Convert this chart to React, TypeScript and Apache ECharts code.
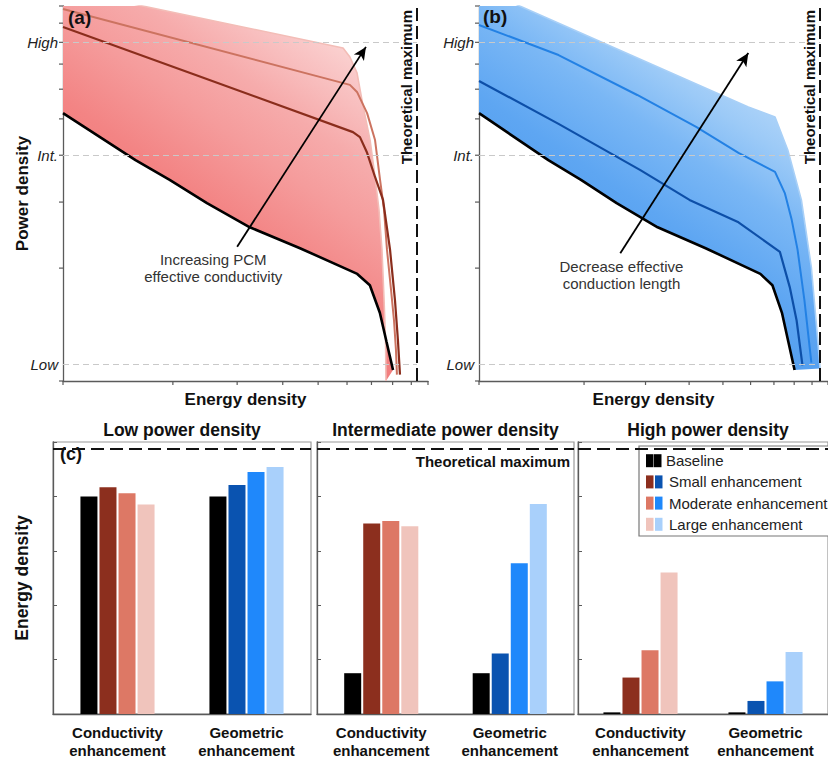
import { useEffect, useRef } from 'react';
import * as echarts from 'echarts';

const FONT = '"Liberation Sans", Arial, Helvetica, sans-serif';

// ---- (a) / (b): power density vs energy density, log-log, arbitrary units ----
const ENERGY_TICKS = [1, 2, 3, 4, 5, 6, 7, 8, 9, 10];
const POWER_TICKS = [1, 2, 3, 4, 5, 6, 7, 8, 9, 10];
const LEVEL_LABELS = ['High', 'Int.', 'Low'];
const LEVEL_VALUES = [8, 4, 1.11];
const THEORETICAL_MAX_A = 9.33;
const THEORETICAL_MAX_B = 9.5;

// baseline device (shared by both panels)
const BASE_E = [1.0, 1.58, 1.96, 2.48, 3.25, 4.46, 6.4, 6.93, 7.38, 7.7, 8.02];
const BASE_P = [5.18, 3.88, 3.44, 2.98, 2.57, 2.26, 1.93, 1.8, 1.52, 1.27, 1.07];

// conductivity enhancement
const COND_SMALL_E = [1, 2.27, 6.23, 6.51, 6.81, 7.16, 7.53, 7.87, 8.12, 8.27, 8.38];
const COND_SMALL_P = [8.79, 6.59, 4.61, 4.47, 4.06, 3.5, 3.04, 2.24, 1.64, 1.29, 1.04];
const COND_MOD_E = [1, 6.11, 6.39, 6.81, 7.16, 7.39, 7.58, 7.72, 7.92, 8.07, 8.17, 8.22];
const COND_MOD_P = [9.82, 6.16, 5.9, 5.18, 4.39, 3.44, 2.86, 2.24, 1.75, 1.45, 1.21, 1.04];
const COND_LARGE_E = [1, 5.85, 6.11, 6.39, 6.63, 6.94, 7.16, 7.34, 7.48, 7.58, 7.65, 7.67];
const COND_LARGE_P = [11.08, 7.73, 7.31, 6.63, 5.45, 4.39, 3.5, 2.86, 2.24, 1.64, 1.29, 1.0];

// geometric enhancement
const GEOM_SMALL_E = [1, 1.69, 2.9, 4.01, 5.54, 7.28, 7.77, 8.13, 8.45];
const GEOM_SMALL_P = [6.31, 4.85, 3.65, 3.04, 2.65, 2.21, 1.78, 1.45, 1.1];
const GEOM_MOD_E = [1, 1.69, 2.84, 4.19, 5.54, 7.05, 7.52, 7.87, 8.18, 8.56, 8.96];
const GEOM_MOD_P = [8.9, 7.4, 5.79, 4.76, 4.06, 3.61, 3.17, 2.69, 2.24, 1.64, 1.12];
const GEOM_LARGE_E = [1, 5.91, 7.05, 7.67, 8.39, 8.96, 9.31, 9.49];
const GEOM_LARGE_P = [11.17, 5.38, 5.06, 4.13, 3.04, 2.01, 1.34, 1.08];

// annotation arrows [energy, power]
const ARROW_A = [[3.0, 2.28], [6.76, 7.78]];
const ARROW_B = [[2.54, 2.19], [5.91, 7.49]];
const NOTE_A = { at: [2.58, 2.0], text: 'Increasing PCM\neffective conductivity' };
const NOTE_B = { at: [2.56, 1.92], text: 'Decrease effective\nconduction length' };

// ---- (c): energy density reached at each power level ----
const CATEGORIES = ['Conductivity\nenhancement', 'Geometric\nenhancement'];
const PANEL_TITLES = ['Low power density', 'Intermediate power density', 'High power density'];
const LEVEL_NAMES = ['Baseline', 'Small enhancement', 'Moderate enhancement', 'Large enhancement'];
const LOW_BASE = [4.0, 4.0];
const LOW_SMALL = [4.17, 4.21];
const LOW_MOD = [4.06, 4.45];
const LOW_LARGE = [3.85, 4.54];
const INT_BASE = [0.75, 0.75];
const INT_SMALL = [3.5, 1.11];
const INT_MOD = [3.55, 2.77];
const INT_LARGE = [3.45, 3.86];
const HIGH_BASE = [0.03, 0.03];
const HIGH_SMALL = [0.67, 0.24];
const HIGH_MOD = [1.17, 0.6];
const HIGH_LARGE = [2.6, 1.14];
const THEORETICAL_BAR = 4.87;

const RED = ['#000000', '#8c2f1e', '#dd7865', '#f0c4bc'];
const BLUE = ['#000000', '#0a53b0', '#1f88fb', '#a9d0fb'];

const TOP_GRIDS = [
  { left: 63, top: 6, width: 365, height: 375 },
  { left: 479, top: 6, width: 355, height: 375 },
];
const BOTTOM_GRIDS = [
  { left: 53, top: 442, width: 258, height: 272 },
  { left: 317, top: 442, width: 257, height: 272 },
  { left: 578, top: 442, width: 260, height: 272 },
];

const AXIS_COLOR = '#5a5a5a';

function pairs(e: number[], p: number[]) {
  return e.map((v, i) => [v, p[i]]);
}

function topPanel(
  idx: number,
  lines: { e: number[]; p: number[]; color: string; width: number }[],
  large: { e: number[]; p: number[]; edge: string },
  stops: [number, string][],
  theo: number,
  arrow: number[][],
  note: { at: number[]; text: string },
) {
  const ax = { xAxisIndex: idx, yAxisIndex: idx };
  const series: any[] = [];

  // shaded band between the baseline and the largest enhancement
  series.push({
    type: 'custom',
    ...ax,
    clip: true,
    silent: true,
    z: 1,
    encode: { x: 0, y: 1 },
    data: [[large.e[0], large.p[0]]],
    renderItem: (_params: any, api: any) => {
      const pts: number[][] = [];
      large.e.forEach((e, i) => pts.push(api.coord([e, large.p[i]])));
      for (let i = BASE_E.length - 1; i >= 0; i--) pts.push(api.coord([BASE_E[i], BASE_P[i]]));
      return {
        type: 'polygon',
        shape: { points: pts },
        style: {
          fill: new echarts.graphic.LinearGradient(
            0.2, 1, 0.8, 0,
            stops.map(([offset, color]) => ({ offset, color })),
          ),
        },
      };
    },
  });

  // outer edge + level guide lines
  series.push({
    type: 'line',
    ...ax,
    z: 2,
    silent: true,
    symbol: 'none',
    data: pairs(large.e, large.p),
    lineStyle: { color: large.edge, width: 1.6 },
    markLine: {
      silent: true,
      symbol: 'none',
      lineStyle: { color: '#c9c9c9', type: [6, 4], width: 1 },
      label: {
        show: true,
        position: 'start',
        formatter: '{b}',
        fontStyle: 'italic',
        fontSize: 15,
        color: '#222',
        fontFamily: FONT,
        distance: 5,
      },
      data: LEVEL_VALUES.map((v, i) => [
        { coord: [1, v], name: LEVEL_LABELS[i] },
        { coord: [theo, v] },
      ]),
    },
  });

  lines.forEach((l) =>
    series.push({
      type: 'line',
      ...ax,
      z: 3,
      silent: true,
      symbol: 'none',
      data: pairs(l.e, l.p),
      lineStyle: { color: l.color, width: l.width },
    }),
  );

  // baseline, theoretical limit and the trend arrow
  series.push({
    type: 'line',
    ...ax,
    z: 4,
    silent: true,
    symbol: 'none',
    data: pairs(BASE_E, BASE_P),
    lineStyle: { color: '#000', width: 2.6 },
    markLine: {
      silent: true,
      label: { show: false },
      data: [
        [
          { coord: [theo, 1], symbol: 'none', lineStyle: { color: '#111', width: 2, type: [13, 5] } },
          { coord: [theo, 10], symbol: 'none' },
        ],
        [
          { coord: arrow[0], symbol: 'none', lineStyle: { color: '#000', width: 1.8, type: 'solid' } },
          { coord: arrow[1], symbol: 'arrow', symbolSize: [9, 13] },
        ],
      ],
    },
  });

  // axis ticks at 1..10 on both log axes
  series.push({
    type: 'custom',
    ...ax,
    silent: true,
    z: 5,
    encode: { x: 0, y: 1 },
    data: [...ENERGY_TICKS.map((t) => [t, 1, 0]), ...POWER_TICKS.map((t) => [1, t, 1])],
    renderItem: (_params: any, api: any) => {
      const p = api.coord([api.value(0), api.value(1)]);
      const onX = api.value(2) === 0;
      return {
        type: 'line',
        shape: onX
          ? { x1: p[0], y1: p[1], x2: p[0], y2: p[1] + 4 }
          : { x1: p[0] - 4, y1: p[1], x2: p[0], y2: p[1] },
        style: { stroke: AXIS_COLOR, lineWidth: 1.2 },
      };
    },
  });

  // text annotations
  series.push({
    type: 'custom',
    ...ax,
    silent: true,
    z: 6,
    encode: { x: 0, y: 1 },
    data: [[note.at[0], note.at[1], 0], [theo, 10, 1]],
    renderItem: (_params: any, api: any) => {
      const p = api.coord([api.value(0), api.value(1)]);
      if (api.value(2) === 0) {
        return {
          type: 'text',
          x: p[0],
          y: p[1],
          style: {
            text: note.text,
            fill: '#333',
            fontSize: 15,
            fontFamily: FONT,
            align: 'center',
            verticalAlign: 'middle',
            lineHeight: 17,
          },
        };
      }
      return {
        type: 'text',
        x: p[0] - 3,
        y: p[1] + 4,
        rotation: Math.PI / 2,
        style: {
          text: 'Theoretical maximum',
          fill: '#111',
          fontSize: 15,
          fontWeight: 'bold',
          fontFamily: FONT,
          align: 'right',
          verticalAlign: 'bottom',
        },
      };
    },
  });

  return series;
}

function buildOption(): any {
  const logX = (i: number) => ({
    type: 'log',
    logBase: 10,
    gridIndex: i,
    min: 1,
    max: 10,
    axisLine: { lineStyle: { color: AXIS_COLOR, width: 1.3 } },
    axisTick: { show: false },
    axisLabel: { show: false },
    splitLine: { show: false },
    name: 'Energy density',
    nameLocation: 'middle',
    nameGap: 10,
    nameTextStyle: { fontSize: 17, fontWeight: 'bold', color: '#111', fontFamily: FONT },
  });
  const logY = (i: number) => ({
    type: 'log',
    logBase: 10,
    gridIndex: i,
    min: 1,
    max: 10,
    axisLine: { lineStyle: { color: AXIS_COLOR, width: 1.3 } },
    axisTick: { show: false },
    axisLabel: { show: false },
    splitLine: { show: false },
    name: i === 0 ? 'Power density' : '',
    nameLocation: 'middle',
    nameGap: 32,
    nameTextStyle: { fontSize: 17, fontWeight: 'bold', color: '#111', fontFamily: FONT },
  });

  const catX = (i: number) => ({
    type: 'category',
    gridIndex: i,
    data: CATEGORIES,
    axisLine: { lineStyle: { color: AXIS_COLOR, width: 1.3 } },
    axisTick: { alignWithLabel: true, length: 4, lineStyle: { color: AXIS_COLOR } },
    axisLabel: {
      interval: 0,
      fontSize: 15,
      fontWeight: 'bold',
      color: '#111',
      fontFamily: FONT,
      lineHeight: 18,
      margin: 9,
    },
  });
  const valY = (i: number) => ({
    type: 'value',
    gridIndex: i,
    min: 0,
    max: 5,
    interval: 1,
    axisLine: { show: true, lineStyle: { color: AXIS_COLOR, width: 1.3 } },
    axisTick: { show: true, inside: true, length: 4, lineStyle: { color: AXIS_COLOR } },
    axisLabel: { show: false },
    splitLine: { show: false },
    name: i === 2 ? 'Energy density' : '',
    nameLocation: 'middle',
    nameGap: 22,
    nameTextStyle: { fontSize: 17.5, fontWeight: 'bold', color: '#111', fontFamily: FONT },
  });

  const series: any[] = [
    ...topPanel(
      0,
      [
        { e: COND_MOD_E, p: COND_MOD_P, color: '#cc7360', width: 2 },
        { e: COND_SMALL_E, p: COND_SMALL_P, color: '#8a2d1c', width: 2.2 },
      ],
      { e: COND_LARGE_E, p: COND_LARGE_P, edge: '#f3bdb7' },
      [
        [0, '#ee6767'],
        [0.44, '#f38484'],
        [0.6, '#f59c9c'],
        [0.72, '#f6abab'],
        [0.86, '#f9c6c6'],
        [1, '#fde2e0'],
      ],
      THEORETICAL_MAX_A,
      ARROW_A,
      NOTE_A,
    ),
    ...topPanel(
      1,
      [
        { e: GEOM_MOD_E, p: GEOM_MOD_P, color: '#2381e4', width: 2 },
        { e: GEOM_SMALL_E, p: GEOM_SMALL_P, color: '#0d4fa8', width: 2.2 },
      ],
      { e: GEOM_LARGE_E, p: GEOM_LARGE_P, edge: '#a9d0f7' },
      [
        [0, '#3a8ce6'],
        [0.44, '#5ea6f2'],
        [0.6, '#7ab7f5'],
        [0.72, '#9ccaf7'],
        [0.86, '#bcdbfa'],
        [1, '#d8eafc'],
      ],
      THEORETICAL_MAX_B,
      ARROW_B,
      NOTE_B,
    ),
  ];

  const barSets = [
    [LOW_BASE, LOW_SMALL, LOW_MOD, LOW_LARGE],
    [INT_BASE, INT_SMALL, INT_MOD, INT_LARGE],
    [HIGH_BASE, HIGH_SMALL, HIGH_MOD, HIGH_LARGE],
  ];
  barSets.forEach((set, p) => {
    set.forEach((vals, l) => {
      series.push({
        type: 'bar',
        name: LEVEL_NAMES[l],
        xAxisIndex: 2 + p,
        yAxisIndex: 2 + p,
        barWidth: 17,
        barGap: '12%',
        silent: true,
        data: vals.map((v, c) => ({ value: v, itemStyle: { color: c === 0 ? RED[l] : BLUE[l] } })),
        markLine:
          l === 0
            ? {
                silent: true,
                symbol: 'none',
                lineStyle: { color: '#111', width: 2, type: [13, 6] },
                label:
                  p === 1
                    ? {
                        show: true,
                        position: 'insideEndBottom',
                        formatter: 'Theoretical maximum',
                        fontSize: 15,
                        fontWeight: 'bold',
                        color: '#111',
                        fontFamily: FONT,
                        distance: [4, 5],
                      }
                    : { show: false },
                data: [{ yAxis: THEORETICAL_BAR }],
              }
            : undefined,
      });
    });
  });

  // legend: two swatches per row (conductivity / geometric)
  const legendChildren: any[] = [
    {
      type: 'rect',
      shape: { x: 639, y: 446, width: 210, height: 90 },
      style: { fill: '#fff', stroke: '#777', lineWidth: 1.2 },
    },
  ];
  LEVEL_NAMES.forEach((name, l) => {
    const cy = 460.7 + l * 21.2;
    legendChildren.push(
      { type: 'rect', shape: { x: 646, y: cy - 6.5, width: 7.5, height: 13 }, style: { fill: RED[l] } },
      { type: 'rect', shape: { x: l === 0 ? 654 : 655, y: cy - 6.5, width: 7.5, height: 13 }, style: { fill: BLUE[l] } },
      {
        type: 'text',
        x: l === 0 ? 666 : 669,
        y: cy,
        style: { text: name, fontSize: 15, fontFamily: FONT, fill: '#222', verticalAlign: 'middle', align: 'left' },
      },
    );
  });

  const graphic: any[] = [
    { type: 'group', z: 100, children: legendChildren },
    { type: 'text', z: 100, x: 68, y: 17, style: { text: '(a)', fontSize: 19, fontWeight: 'bold', fontFamily: FONT, fill: '#111', verticalAlign: 'middle' } },
    { type: 'text', z: 100, x: 483, y: 16, style: { text: '(b)', fontSize: 19, fontWeight: 'bold', fontFamily: FONT, fill: '#111', verticalAlign: 'middle' } },
    { type: 'text', z: 100, x: 60, y: 454, style: { text: '(c)', fontSize: 18, fontWeight: 'bold', fontFamily: FONT, fill: '#111', verticalAlign: 'middle' } },
    ...BOTTOM_GRIDS.map((g, i) => ({
      type: 'text',
      z: 100,
      x: g.left + g.width / 2,
      y: 430,
      style: {
        text: PANEL_TITLES[i],
        fontSize: 17.5,
        fontWeight: 'bold',
        fontFamily: FONT,
        fill: '#111',
        align: 'center',
        verticalAlign: 'middle',
      },
    })),
  ];

  return {
    animation: false,
    backgroundColor: '#fff',
    textStyle: { fontFamily: FONT },
    grid: [
      ...TOP_GRIDS.map((g) => ({ ...g, containLabel: false })),
      ...BOTTOM_GRIDS.map((g) => ({ ...g, containLabel: false, show: true, borderColor: '#9a9a9a', borderWidth: 1.2 })),
    ],
    xAxis: [logX(0), logX(1), catX(2), catX(3), catX(4)],
    yAxis: [logY(0), logY(1), valY(2), valY(3), valY(4)],
    series,
    graphic,
  };
}

export default function App() {
  const ref = useRef<HTMLDivElement>(null);
  useEffect(() => {
    if (!ref.current) return;
    const chart = echarts.init(ref.current, undefined, { renderer: 'svg' });
    chart.setOption(buildOption());
    return () => chart.dispose();
  }, []);
  return (
    <div
      ref={ref}
      style={{ position: 'absolute', left: 0, top: 0, width: 828, height: 763, background: '#fff' }}
    />
  );
}
